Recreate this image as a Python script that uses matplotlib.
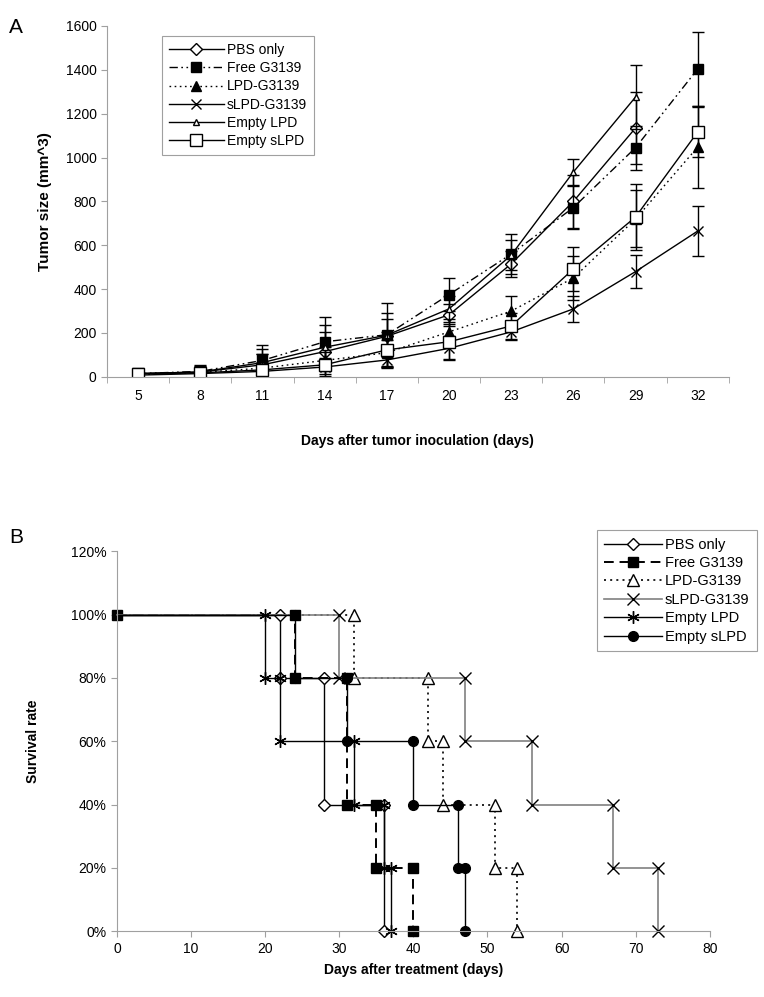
import numpy as np
import matplotlib
matplotlib.use("Agg")
from matplotlib import pyplot as plt

plt.rcParams["font.family"] = ["Liberation Sans", "DejaVu Sans"]

# ---- Panel A data: tumour growth ----
days_a = [5, 8, 11, 14, 17, 20, 23, 26, 29, 32]
pbs_a = [15, 22, 55, 115, 185, 283, 515, 800, 1135]
pbs_a_err = [20, 25, 50, 90, 80, 50, 60, 120, 165]
free_a = [15, 25, 75, 160, 192, 375, 560, 772, 1045, 1404]
free_a_err = [20, 30, 70, 115, 145, 75, 90, 100, 100, 168]
lpd_a = [10, 20, 40, 75, 110, 205, 300, 451, 720, 1048]
lpd_a_err = [15, 20, 30, 60, 60, 60, 70, 100, 130, 185]
slpd_a = [8, 15, 25, 45, 77, 130, 205, 310, 480, 665]
slpd_a_err = [10, 15, 20, 40, 35, 55, 35, 60, 75, 112]
elpd_a = [15, 22, 65, 135, 190, 310, 555, 934, 1276]
elpd_a_err = [20, 25, 60, 100, 100, 60, 70, 60, 146]
eslpd_a = [14, 18, 32, 55, 123, 160, 232, 492, 729, 1117]
eslpd_a_err = [25, 30, 70, 60, 80, 80, 60, 100, 150, 115]

labels = ["PBS only", "Free G3139", "LPD-G3139", "sLPD-G3139", "Empty LPD", "Empty sLPD"]

# ---- Panel B data: survival steps (day, fraction) ----
pbs_t = [0, 22, 22, 28, 28, 36, 36]
pbs_s = [1.0, 1.0, 0.8, 0.8, 0.4, 0.4, 0.0]
free_t = [0, 24, 24, 31, 31, 35, 35, 40, 40]
free_s = [1.0, 1.0, 0.8, 0.8, 0.4, 0.4, 0.2, 0.2, 0.0]
lpd_t = [0, 32, 32, 42, 42, 44, 44, 51, 51, 54, 54]
lpd_s = [1.0, 1.0, 0.8, 0.8, 0.6, 0.6, 0.4, 0.4, 0.2, 0.2, 0.0]
slpd_t = [0, 30, 30, 47, 47, 56, 56, 67, 67, 73, 73]
slpd_s = [1.0, 1.0, 0.8, 0.8, 0.6, 0.6, 0.4, 0.4, 0.2, 0.2, 0.0]
elpd_t = [0, 20, 20, 22, 22, 32, 32, 36, 36, 37, 37]
elpd_s = [1.0, 1.0, 0.8, 0.8, 0.6, 0.6, 0.4, 0.4, 0.2, 0.2, 0.0]
eslpd_t = [0, 24, 24, 31, 31, 40, 40, 46, 46, 47, 47]
eslpd_s = [1.0, 1.0, 0.8, 0.8, 0.6, 0.6, 0.4, 0.4, 0.2, 0.2, 0.0]

fig = plt.figure(figsize=(7.64, 9.97), dpi=100)
axis_grey = "#a0a0a0"

# ================= Panel A =================
ax = fig.add_axes([0.140, 0.622, 0.814, 0.352])
pos = np.arange(len(days_a))
dashdot = (0, (6, 2.5, 1.2, 2.5, 1.2, 2.5))
styles_a = [
    (pbs_a, pbs_a_err, "-", "D", "white", 6),
    (free_a, free_a_err, dashdot, "s", "black", 7),
    (lpd_a, lpd_a_err, (0, (1.2, 2.5)), "^", "black", 7),
    (slpd_a, slpd_a_err, "-", "x", "black", 7),
    (elpd_a, elpd_a_err, "-", "^", "white", 5),
    (eslpd_a, eslpd_a_err, "-", "s", "white", 8),
]
for (vals, err, ls, mk, fc, ms), lab in zip(styles_a, labels):
    n = len(vals)
    ax.errorbar(pos[:n], vals, yerr=err, fmt="none", ecolor="black",
                elinewidth=1, capsize=4, capthick=1)
    ax.plot(pos[:n], vals, color="black", lw=1, ls=ls, marker=mk, ms=ms,
            mfc=fc, mec="black", mew=1, label=lab)

ax.set_xlim(-0.5, len(days_a) - 0.5)
ax.set_ylim(0, 1600)
ax.set_yticks(range(0, 1601, 200))
ax.set_xticks(pos)
ax.set_xticklabels([str(d) for d in days_a])
ax.set_xticks(np.arange(-0.5, len(days_a)), minor=True)
ax.tick_params(axis="x", which="major", length=0, pad=9, labelsize=10)
ax.tick_params(axis="x", which="minor", length=4, color=axis_grey)
ax.tick_params(axis="y", length=4, color=axis_grey, labelsize=10)
for s in ["top", "right"]:
    ax.spines[s].set_visible(False)
for s in ["left", "bottom"]:
    ax.spines[s].set_color(axis_grey)
ax.set_xlabel("Days after tumor inoculation (days)", fontweight="bold",
              fontsize=10, labelpad=22)
ax.set_ylabel("Tumor size (mm^3)", fontweight="bold", fontsize=11, labelpad=10)
leg = ax.legend(loc="upper left", bbox_to_anchor=(0.088, 0.971), borderaxespad=0,
                fontsize=10, handlelength=4, labelspacing=0.3, fancybox=False,
                edgecolor=axis_grey, framealpha=1, borderpad=0.5, handletextpad=0.2)
leg.get_frame().set_linewidth(0.8)
fig.text(0.012, 0.982, "A", fontsize=15, va="top")

# ================= Panel B =================
bx = fig.add_axes([0.153, 0.066, 0.776, 0.381])
star = (6, 2, 0)
styles_b = [
    (pbs_t, pbs_s, "black", "-", 1, "D", "white", 6),
    (free_t, free_s, "black", (0, (5, 3)), 1.4, "s", "black", 7),
    (lpd_t, lpd_s, "black", (0, (1.2, 2.5)), 1.2, "^", "white", 9),
    (slpd_t, slpd_s, "#808080", "-", 1.2, "x", "black", 9),
    (elpd_t, elpd_s, "black", "-", 1, star, "black", 9),
    (eslpd_t, eslpd_s, "black", "-", 1, "o", "black", 7),
]
for i, ((t, s, col, ls, lw, mk, fc, ms), lab) in enumerate(zip(styles_b, labels)):
    # only the Free G3139 marker is visible at the shared starting point
    every = None if i == 1 else slice(1, None)
    bx.plot(t, s, color=col, ls=ls, lw=lw, marker=mk, ms=ms, mfc=fc,
            mec="black", mew=1, markevery=every, label=lab, clip_on=False)

bx.set_xlim(0, 80)
bx.set_ylim(0, 1.2)
bx.set_xticks(range(0, 81, 10))
bx.set_yticks(np.arange(0, 1.21, 0.2))
bx.set_yticklabels([f"{v}%" for v in range(0, 121, 20)])
bx.tick_params(axis="both", length=4, color=axis_grey, labelsize=10)
for s in ["top", "right"]:
    bx.spines[s].set_visible(False)
for s in ["left", "bottom"]:
    bx.spines[s].set_color(axis_grey)
bx.set_xlabel("Days after treatment (days)", fontweight="bold", fontsize=10,
              labelpad=5)
bx.set_ylabel("Survival rate", fontweight="bold", fontsize=10, labelpad=22)
leg2 = bx.legend(loc="upper left", bbox_to_anchor=(0.809, 1.055), borderaxespad=0,
                 fontsize=10.5, handlelength=4, labelspacing=0.3, fancybox=False,
                 edgecolor=axis_grey, framealpha=1, borderpad=0.5, handletextpad=0.2)
leg2.get_frame().set_linewidth(0.8)
fig.text(0.012, 0.47, "B", fontsize=15, va="top")

fig.savefig("out.png", dpi=100)
